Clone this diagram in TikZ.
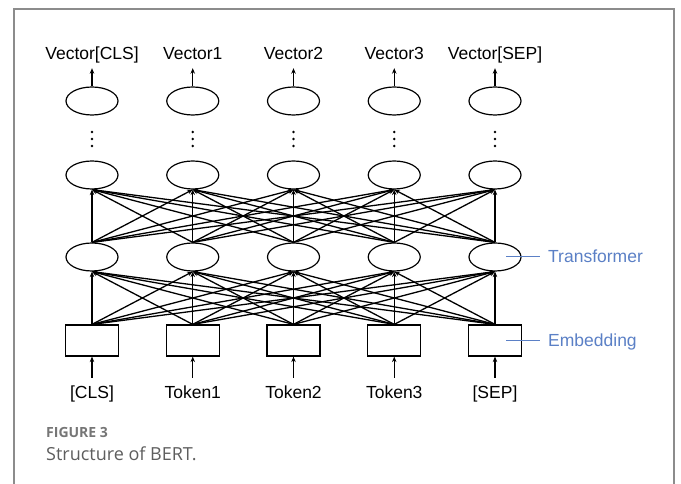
\documentclass[tikz,border=0pt]{standalone}
\usepackage{fontspec}
\setmainfont{Liberation Sans}
\newfontfamily\capfont{Open Sans}
\usetikzlibrary{arrows.meta,shapes.geometric}
\definecolor{framegray}{HTML}{8C8C8C}
\definecolor{labelblue}{HTML}{5B80C6}
\definecolor{capgray}{HTML}{5E5E5E}
\begin{document}
\begin{tikzpicture}[x=1pt,y=-1pt,
  neuron/.style={ellipse,draw,line width=1.2pt,minimum width=52pt,minimum height=28pt,inner sep=0pt},
  embbox/.style={rectangle,draw,line width=1.2pt,minimum width=53pt,minimum height=31pt,inner sep=0pt},
  conn/.style={-{Stealth[length=5.5pt,width=4.5pt]},line width=1.3pt},
  veclbl/.style={font=\fontsize{17.5}{20}\selectfont,anchor=base,text depth=4pt,inner ysep=4pt,inner xsep=1pt},
  toklbl/.style={font=\fontsize{17.5}{20}\selectfont,anchor=base,text height=13pt,inner ysep=7pt,inner xsep=1pt},
  bluelbl/.style={font=\fontsize{17.5}{20}\selectfont,text=labelblue,anchor=base west,inner xsep=0pt},
  blueline/.style={draw=labelblue,line width=1pt},
  dotmark/.style={circle,fill=black,inner sep=0pt,minimum size=2.6pt}]
\useasboundingbox (0,0) rectangle (681,484);
\fill[white] (0,0) rectangle (681,484);
\draw[framegray,line width=1.5pt] (14,484) -- (14,9) -- (674,9) -- (674,484);

\foreach \i/\tok/\vec in {0/{[CLS]}/{Vector[CLS]},1/{Token1}/{Vector1},2/{Token2}/{Vector2},3/{Token3}/{Vector3},4/{[SEP]}/{Vector[SEP]}}{
  \pgfmathsetmacro{\cx}{92+100.75*\i}
  \node[veclbl] (vec\i) at (\cx,60) {\vec};
  \node[neuron] (out\i) at (\cx,101) {};
  \node[dotmark] (da\i) at (\cx,132) {};
  \node[dotmark] (db\i) at (\cx,139) {};
  \node[dotmark] (dc\i) at (\cx,146) {};
  \node[neuron] (up\i) at (\cx,175) {};
  \node[neuron] (tr\i) at (\cx,257) {};
  \node[embbox] (emb\i) at (\cx,340.5) {};
  \node[toklbl] (tok\i) at (\cx,398) {\tok};
  \draw[conn] (out\i.north) -- (vec\i.south);
  \draw[conn] (tok\i.north) -- (emb\i.south);
}
\foreach \i in {0,...,4}{
  \foreach \j in {0,...,4}{
    \draw[conn] (emb\i.north) -- (tr\j.south);
    \draw[conn] (tr\i.north) -- (up\j.south);
  }
}

\node[bluelbl] (trlab) at (548,263) {Transformer};
\node[bluelbl] (emblab) at (548,346) {Embedding};
\draw[blueline] ([xshift=11pt]tr4.center) -- (540,257);
\draw[blueline] ([xshift=11pt]emb4.center) -- (540,340.5);

\node[font=\capfont\bfseries\fontsize{14}{16}\selectfont,text=capgray!85,anchor=base west,inner sep=0pt] (figlab) at (46,437) {FIGURE 3};
\node[font=\capfont\fontsize{18}{21}\selectfont,text=capgray,anchor=base west,inner sep=0pt] (caption) at (46,460) {Structure of BERT.};
\end{tikzpicture}
\end{document}
